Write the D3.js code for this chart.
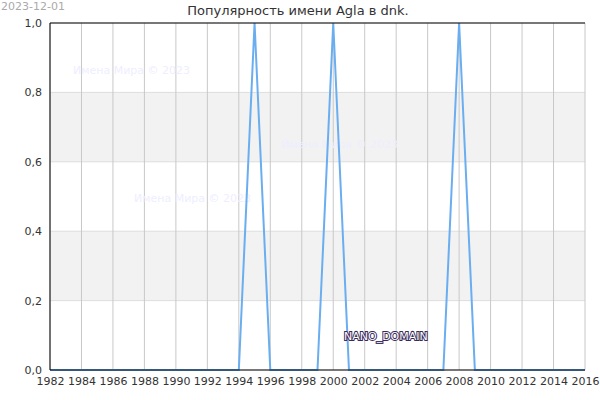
<!DOCTYPE html>
<html><head><meta charset="utf-8">
<script src="https://cdn.jsdelivr.net/npm/d3@7"></script>
<style>body{margin:0;background:#fff}text{font-family:"DejaVu Sans",sans-serif}</style>
</head><body><div id="chart"></div>
<script>
// data
var years = d3.range(1982, 2017);
var values = [0,0,0,0,0,0,0,0,0,0,0,0,0,1,0,0,0,0,1,0,0,0,0,0,0,0,1,0,0,0,0,0,0,0,0];
var yTicks = [0, 0.2, 0.4, 0.6, 0.8, 1.0];
var title = "Популярность имени Agla в dnk.";

var margin = {top: 23, right: 15, bottom: 30, left: 50},
    width = 600 - margin.left - margin.right,
    height = 400 - margin.top - margin.bottom;

var svg = d3.select("#chart").append("svg")
    .attr("width", 600).attr("height", 400);
var g = svg.append("g").attr("transform", "translate(" + margin.left + "," + margin.top + ")");

var x = d3.scaleLinear().domain([1982, 2016]).range([0, width]);
var y = d3.scaleLinear().domain([0, 1]).range([height, 0]);

// grey bands
[[0.2, 0.4], [0.6, 0.8]].forEach(function(b) {
  g.append("rect").attr("x", 0).attr("width", width)
    .attr("y", y(b[1])).attr("height", y(b[0]) - y(b[1]))
    .style("fill", "#f2f2f2");
});
yTicks.forEach(function(t) {
  g.append("line").attr("x1", 0).attr("x2", width).attr("y1", y(t)).attr("y2", y(t))
    .style("stroke", "#dddddd");
});
d3.range(1982, 2017, 2).forEach(function(t) {
  g.append("line").attr("x1", x(t)).attr("x2", x(t)).attr("y1", 0).attr("y2", height)
    .style("stroke", "#c8c8c8");
});

// watermarks
[[23, 47], [231, 121], [84, 175]].forEach(function(w) {
  g.append("text").attr("x", w[0]).attr("y", w[1]).attr("dy", "0.35em")
    .style("font-size", "11px").style("fill", "#eeeeff").text("Имена Мира © 2023");
});

// line
g.append("path").datum(years.map(function(d, i) { return [d, values[i]]; }))
  .attr("d", d3.line().x(function(d) { return x(d[0]); }).y(function(d) { return y(d[1]); }))
  .style("fill", "none").style("stroke", "#6aaef0").style("stroke-width", 2);

// axes
var xAxis = g.append("g").attr("transform", "translate(0," + height + ")")
  .call(d3.axisBottom(x).tickValues(d3.range(1982, 2017, 2)).tickFormat(d3.format("d")).tickSize(0).tickPadding(7));
var yAxis = g.append("g")
  .call(d3.axisLeft(y).tickValues(yTicks).tickFormat(function(d) { return d3.format(".1f")(d).replace(".", ","); }).tickSize(0).tickPadding(8));
[xAxis, yAxis].forEach(function(a) {
  a.select(".domain").remove();
  a.selectAll("text").style("font-size", "11px").style("fill", "#333").style("font-family", "DejaVu Sans");
});
// frame: left, top, bottom
g.append("path").attr("d", "M" + width + ",0H0V" + height + "H" + width)
  .style("fill", "none").style("stroke", "#000").style("stroke-width", 1);

// texts
svg.append("text").attr("x", 298).attr("y", 15).attr("text-anchor", "middle")
  .style("font-size", "13px").style("fill", "#333").text(title);
svg.append("text").attr("x", 1).attr("y", 10)
  .style("font-size", "11px").style("fill", "#aaa").text("2023-12-01");
g.append("text").attr("x", 294).attr("y", 313).attr("dy", "0.35em")
  .style("font-size", "11px").style("fill", "#fff").style("stroke", "#3a2a5a")
  .style("stroke-width", 2).style("paint-order", "stroke").text("NANO_DOMAIN");
</script></body></html>
